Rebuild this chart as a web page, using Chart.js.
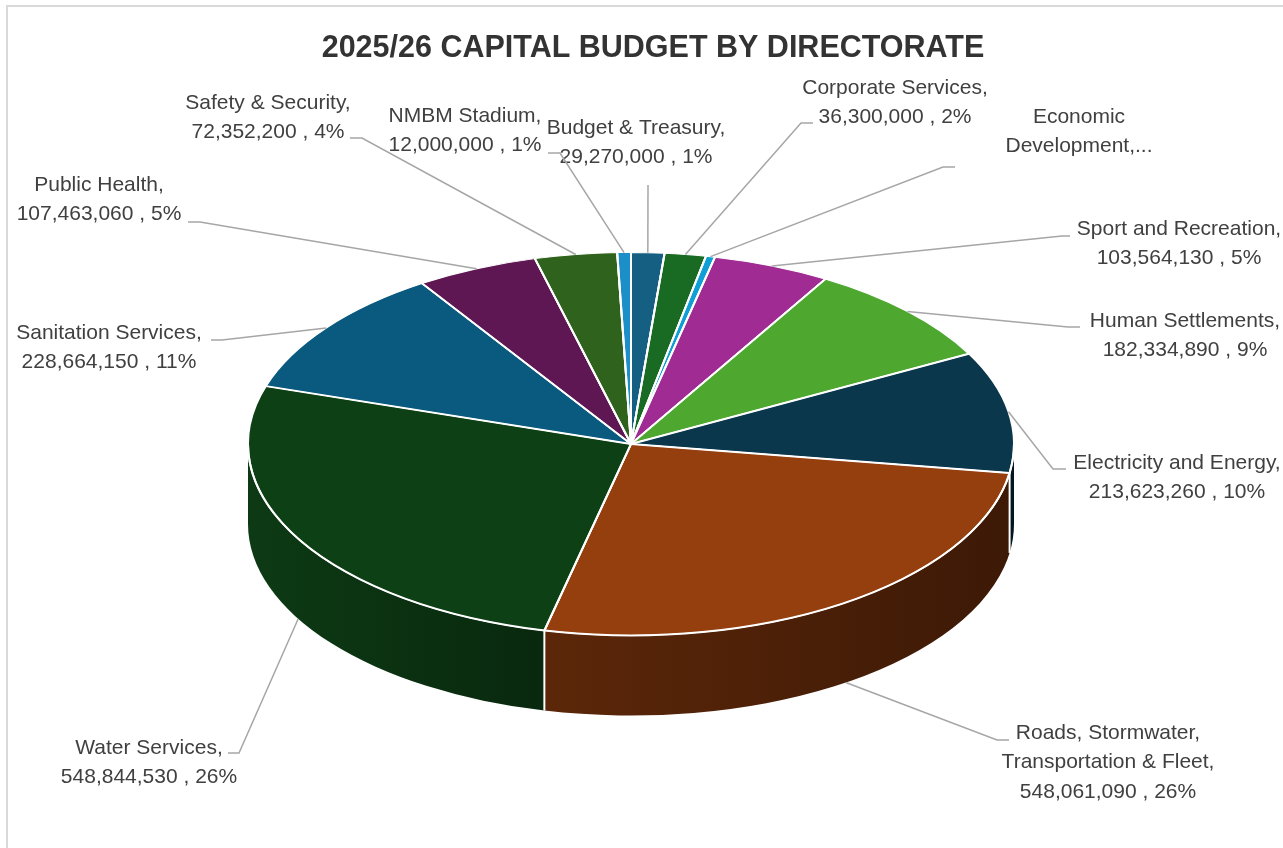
<!DOCTYPE html>
<html>
<head>
<meta charset="utf-8">
<title>2025/26 Capital Budget by Directorate</title>
<script src="https://cdn.jsdelivr.net/npm/chart.js@4.4.1/dist/chart.umd.min.js"></script>
<style>
    html, body { margin: 0; padding: 0; background: #ffffff; overflow: hidden; }
    canvas { display: block; }
</style>
</head>
<body>
<canvas id="budgetChart" width="1283" height="848"></canvas>
<script>
const chartTitle = '2025/26 CAPITAL BUDGET BY DIRECTORATE';

const directorates = [
    'Budget & Treasury',
    'Corporate Services',
    'Economic Development',
    'Sport and Recreation',
    'Human Settlements',
    'Electricity and Energy',
    'Roads, Stormwater, Transportation & Fleet',
    'Water Services',
    'Sanitation Services',
    'Public Health',
    'Safety & Security',
    'NMBM Stadium'
];
const budgets = [
    29270000, 36300000, 8000000, 103564130, 182334890, 213623260,
    548061090, 548844530, 228664150, 107463060, 72352200, 12000000
];
const sliceColors = [
    '#155f82', '#196b24', '#0f9ed5', '#a02b93', '#4ea72e', '#0b374d',
    '#953f0e', '#0e4016', '#095a7e', '#5e1752', '#2f631d', '#1d8fc8'
];

// label layout: centre x / first line centre y of each text block,
// leader points from the text side to the elbow, and how many lines fit
const labelCenters = [
    [636, 128], [895, 88], [1079, 117], [1179, 229], [1185, 321], [1177, 463],
    [1108, 733], [149, 748], [109, 333], [99, 185], [268, 103], [465, 116]
];
const leaderPoints = [
    [[648, 185]],
    [[813, 123], [801, 123]],
    [[955, 167], [943, 167]],
    [[1070, 236], [1062, 236]],
    [[1080, 327], [1068, 327]],
    [[1066, 469], [1053, 469]],
    [[1009, 740], [997, 740]],
    [[228, 753], [239, 753]],
    [[211, 340], [222, 340]],
    [[188, 222], [200, 222]],
    [[350, 138], [362, 138]],
    [[548, 153], [560, 153]]
];
const labelMaxLines = [3, 3, 2, 3, 3, 3, 4, 3, 3, 3, 3, 3];

const TILT = 0.5;      // vertical squash of the top face
const DEPTH = 80;      // height of the side wall
const LINE_H = 29.5;
const LABEL_FONT = '21px "Liberation Sans", Arial, sans-serif';
const TEXT_COLOR = '#404040';

// percentages rounded so that they add up to 100
function roundedPercents(values) {
    const total = values.reduce((a, b) => a + b, 0);
    const raw = values.map(v => v / total * 100);
    const pct = raw.map(r => Math.floor(r));
    const left = 100 - pct.reduce((a, b) => a + b, 0);
    raw.map((r, i) => [r - Math.floor(r), i])
        .sort((a, b) => b[0] - a[0])
        .slice(0, left)
        .forEach(([, i]) => pct[i]++);
    return pct;
}

function shade(hex, f) {
    const n = parseInt(hex.slice(1), 16);
    const r = Math.round(((n >> 16) & 255) * f);
    const g = Math.round(((n >> 8) & 255) * f);
    const b = Math.round((n & 255) * f);
    return `rgb(${r},${g},${b})`;
}

function wrapText(ctx, text, maxWidth) {
    const words = text.split(' ');
    const lines = [];
    let line = '';
    words.forEach(w => {
        const test = line ? line + ' ' + w : w;
        if (line && ctx.measureText(test).width > maxWidth) {
            lines.push(line);
            line = w;
        } else {
            line = test;
        }
    });
    if (line) lines.push(line);
    return lines;
}

const percents = roundedPercents(budgets);

const pie3d = {
    id: 'pie3d',
    beforeDatasetsDraw(chart) {
        const ctx = chart.ctx;
        const arcs = chart.getDatasetMeta(0).data;
        const cx = arcs[0].x;
        const cy = arcs[0].y;
        const rx = arcs[0].outerRadius;
        const ry = rx * TILT;

        // side walls of the slices facing the viewer
        arcs.forEach((arc, i) => {
            const a = Math.max(arc.startAngle, 0);
            const b = Math.min(arc.endAngle, Math.PI);
            if (a >= b) return;
            const grad = ctx.createLinearGradient(cx - rx, 0, cx + rx, 0);
            grad.addColorStop(0, shade(sliceColors[i], 0.9));
            grad.addColorStop(0.39, shade(sliceColors[i], 0.62));
            grad.addColorStop(1, shade(sliceColors[i], 0.4));
            ctx.save();
            ctx.beginPath();
            ctx.ellipse(cx, cy, rx, ry, 0, a, b);
            ctx.lineTo(cx + rx * Math.cos(b), cy + ry * Math.sin(b) + DEPTH);
            ctx.ellipse(cx, cy + DEPTH, rx, ry, 0, b, a, true);
            ctx.closePath();
            ctx.fillStyle = grad;
            ctx.fill();
            ctx.restore();
        });

        // white edges between walls
        ctx.save();
        ctx.strokeStyle = '#ffffff';
        ctx.lineWidth = 2;
        arcs.forEach(arc => {
            const t = arc.startAngle;
            if (t > 0.01 && t < Math.PI - 0.01) {
                const x = cx + rx * Math.cos(t);
                const y = cy + ry * Math.sin(t);
                ctx.beginPath();
                ctx.moveTo(x, y);
                ctx.lineTo(x, y + DEPTH);
                ctx.stroke();
            }
        });
        ctx.restore();

        // squash the top face into an ellipse
        ctx.save();
        ctx.translate(cx, cy);
        ctx.scale(1, TILT);
        ctx.translate(-cx, -cy);
    },
    afterDatasetsDraw(chart) {
        const ctx = chart.ctx;
        ctx.restore();
        const arcs = chart.getDatasetMeta(0).data;
        const cx = arcs[0].x;
        const cy = arcs[0].y;
        const rx = arcs[0].outerRadius;
        const ry = rx * TILT;

        // slice edges and front rim at full line width
        ctx.save();
        ctx.strokeStyle = '#ffffff';
        ctx.lineWidth = 2;
        ctx.lineCap = 'round';
        arcs.forEach(arc => {
            const t = arc.startAngle;
            ctx.beginPath();
            ctx.moveTo(cx, cy);
            ctx.lineTo(cx + rx * Math.cos(t), cy + ry * Math.sin(t));
            ctx.stroke();
        });
        ctx.beginPath();
        ctx.ellipse(cx, cy, rx, ry, 0, 0, Math.PI);
        ctx.stroke();
        ctx.restore();

        // leader lines and data labels
        ctx.save();
        ctx.font = LABEL_FONT;
        arcs.forEach((arc, i) => {
            const mid = (arc.startAngle + arc.endAngle) / 2;
            let ax = cx + rx * Math.cos(mid);
            let ay = cy + ry * Math.sin(mid);
            if (Math.sin(mid) > 0) ay += DEPTH;

            ctx.strokeStyle = '#a6a6a6';
            ctx.lineWidth = 1.5;
            ctx.beginPath();
            leaderPoints[i].forEach(([x, y], k) => {
                if (k === 0) ctx.moveTo(x, y);
                else ctx.lineTo(x, y);
            });
            ctx.lineTo(ax, ay);
            ctx.stroke();

            let lines = wrapText(ctx, directorates[i] + ',', 222);
            lines.push(`${budgets[i].toLocaleString('en-US')} , ${percents[i]}%`);
            if (lines.length > labelMaxLines[i]) {
                lines = lines.slice(0, labelMaxLines[i]);
                lines[lines.length - 1] += '...';
            }
            const [tx, ty] = labelCenters[i];
            ctx.fillStyle = TEXT_COLOR;
            ctx.textAlign = 'center';
            ctx.textBaseline = 'middle';
            lines.forEach((line, k) => ctx.fillText(line, tx, ty + k * LINE_H));
        });
        ctx.restore();
    },
    afterDraw(chart) {
        const ctx = chart.ctx;
        ctx.save();
        ctx.strokeStyle = '#d9d9d9';
        ctx.lineWidth = 2;
        ctx.strokeRect(7, 6, 1400, 1000);
        ctx.font = 'bold 30.5px "Liberation Sans", Arial, sans-serif';
        ctx.fillStyle = '#333333';
        ctx.textAlign = 'center';
        ctx.textBaseline = 'alphabetic';
        ctx.fillText(chartTitle, 653, 57);
        ctx.restore();
    }
};

const ctx = document.getElementById('budgetChart').getContext('2d');

new Chart(ctx, {
    type: 'pie',
    data: {
        labels: directorates,
        datasets: [{
            data: budgets,
            backgroundColor: sliceColors,
            borderColor: '#ffffff',
            borderWidth: 2,
            hoverOffset: 0,
            clip: false
        }]
    },
    options: {
        responsive: false,
        animation: false,
        events: [],
        layout: {
            padding: { left: 247, right: 268, top: 60, bottom: 20 }
        },
        plugins: {
            legend: { display: false },
            tooltip: { enabled: false },
            title: { display: false }
        }
    },
    plugins: [pie3d]
});
</script>
</body>
</html>
